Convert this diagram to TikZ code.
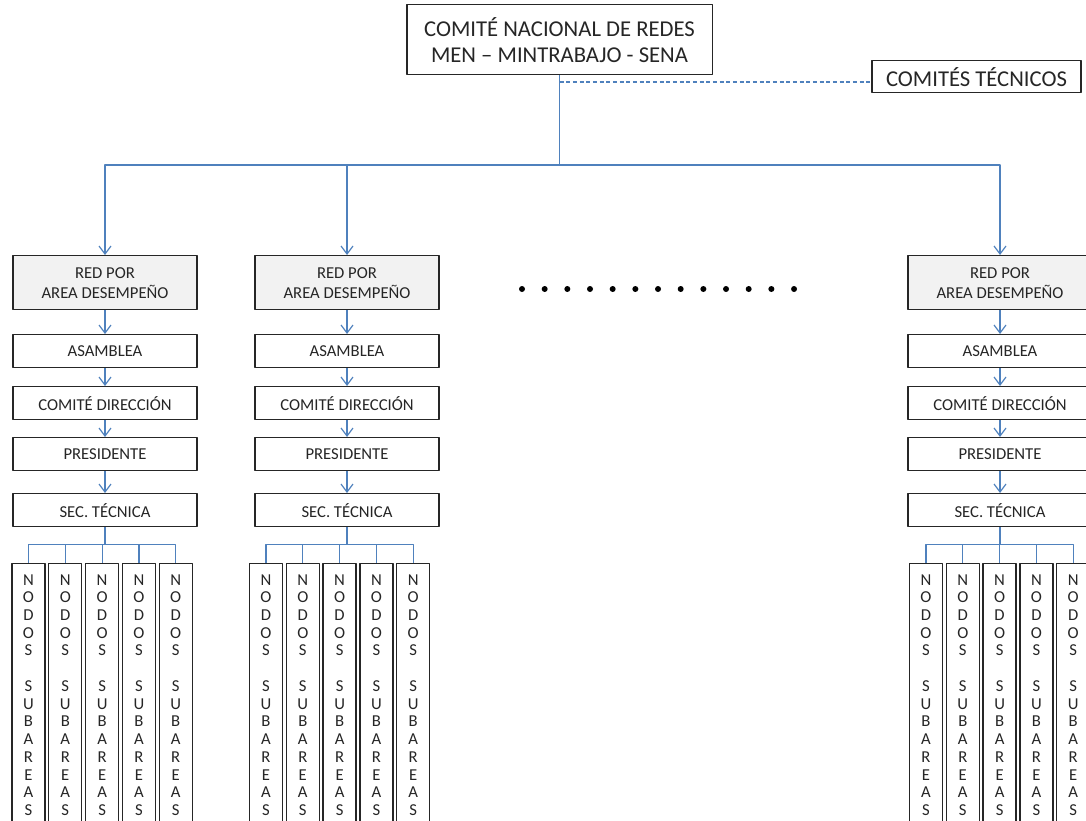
\documentclass[tikz,border=0pt]{standalone}
\usepackage{fontspec}
\setmainfont{Carlito}
\usetikzlibrary{arrows.meta,calc}
\definecolor{linkblue}{RGB}{79,129,189}
\definecolor{inkgray}{RGB}{38,38,38}
\tikzset{>={Straight Barb[length=6pt,width=9pt]}}
\tikzset{
  box/.style={draw=inkgray, line width=1pt, fill=white, inner sep=0pt, anchor=north,
    minimum width=138pt, minimum height=24.75pt, align=center, text=inkgray,
    font=\fontsize{12.5}{15}\selectfont},
  redbox/.style={box, fill=black!5, minimum height=40.5pt},
  bigbox/.style={box, font=\fontsize{17}{19.5}\selectfont},
  nodobox/.style={box, minimum width=24.75pt, minimum height=197pt,
    font=\fontsize{12.5}{13.3}\selectfont},
  link/.style={draw=linkblue, line width=0.9pt}
}
\newcommand{\nodostext}{N\\O\\D\\O\\S\\[13.3pt]S\\U\\B\\A\\R\\E\\A\\S}

\begin{document}
\begin{tikzpicture}[x=0.75pt, y=-0.75pt, line join=round]
    \useasboundingbox (0,0) rectangle (1086,821);
    \clip (0,0) rectangle (1086,821);

    % top of the chart
    \node[bigbox, minimum width=229pt, minimum height=52.5pt] (comite) at (559.5,4) {COMITÉ NACIONAL DE REDES\\MEN – MINTRABAJO - SENA};
    \node[bigbox, minimum width=156.75pt, minimum height=24pt] (tecnicos) at (976.5,60) {COMITÉS TÉCNICOS};
    \coordinate (bus) at (559.5,165);
    \coordinate (tap) at (559.5,82);
    \draw[link] (comite) -- (bus);
    \draw[link, dash pattern=on 3pt off 2pt] (tap) -- (tap -| tecnicos.west);

    % one column per red
    \foreach \c/\cx/\nx in {a/105/28.5, b/347/266, c/1000/926} {
        \node[redbox] (red\c) at (\cx,255) {RED POR\\AREA DESEMPEÑO};
        \node[box] (asam\c) at (\cx,334) {ASAMBLEA};
        \node[box] (dir\c) at (\cx,386) {COMITÉ DIRECCIÓN};
        \node[box] (pres\c) at (\cx,437) {PRESIDENTE};
        \node[box] (sec\c) at (\cx,493) {SEC. TÉCNICA};
        \draw[link,->] (bus) -| (red\c);
        \draw[link,->] (red\c) -- (asam\c);
        \draw[link,->] (asam\c) -- (dir\c);
        \draw[link,->] (dir\c) -- (pres\c);
        \draw[link,->] (pres\c) -- (sec\c);
        \coordinate (nbus\c) at ($(sec\c.south)+(0,17)$);
        \draw[link] (sec\c) -- (nbus\c);
        \foreach \k in {0,...,4} {
            \node[nodobox] (nodo\c\k) at (\nx+36.8*\k,563) {\nodostext};
            \draw[link] (nbus\c) -| (nodo\c\k);
        }
    }

    % more reds in between
    \foreach \i in {0,...,12}
        \fill (522+22.67*\i,289) circle[radius=2.25pt];
\end{tikzpicture}
\end{document}
